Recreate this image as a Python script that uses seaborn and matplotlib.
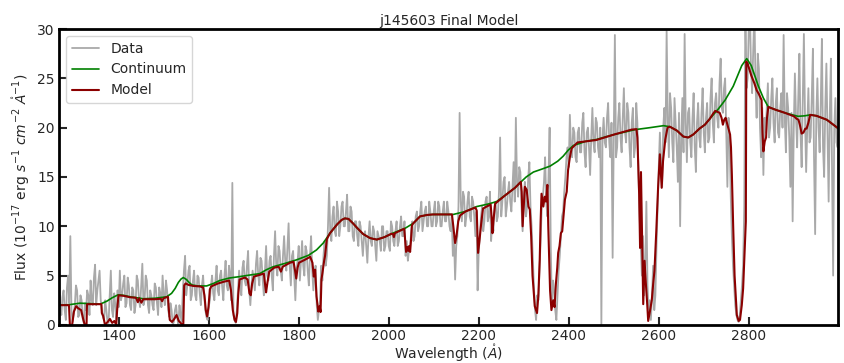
import numpy as np
import pandas as pd
import matplotlib
matplotlib.use("Agg")
import matplotlib.pyplot as plt
import seaborn as sns

# Observed spectrum: pixels on the 5 Angstrom grid ...
data_wave_a = np.arange(1267, 3000, 5)
data_flux_a = [
    4.5, 1.0, 3.5, 0.5, 5.0, 9.0, 0.3, 2.0, 3.5, 1.0, 2.5, 0.2, 1.5, 3.0, 4.5, 2.0, 6.1, 3.5, 5.5, 1.5,
    0.5, 1.5, 0.2, 5.5, 0.8, 2.0, 3.5, 5.5, 3.0, 5.0, 2.2, 4.0, 1.5, 3.5, 2.0, 4.5, 1.8, 6.2, 2.5, 4.5,
    1.2, 3.0, 1.5, 3.8, 1.0, 3.2, 5.0, 2.0, 3.5, 0.8, 1.5, 0.3, 2.0, 0.0, 1.0, 3.5, 7.0, 4.0, 6.0, 3.0,
    5.5, 2.5, 4.8, 2.0, 5.0, 1.5, 0.5, 2.5, 5.0, 2.5, 6.0, 3.0, 5.5, 2.5, 6.5, 3.5, 5.0, 14.4, 0.5, 1.5,
    5.5, 3.0, 6.5, 4.0, 7.5, 2.0, 5.5, 3.5, 7.5, 4.0, 6.5, 3.0, 8.0, 4.5, 7.0, 3.5, 9.5, 5.0, 7.5, 4.5,
    9.0, 5.5, 10.3, 4.0, 7.5, 2.5, 6.5, 4.5, 8.5, 5.0, 7.5, 4.0, 9.0, 3.5, 6.0, 0.5, 2.5, 4.5, 8.5, 7.0,
    13.9, 8.5, 12.0, 9.0, 11.5, 10.0, 12.5, 10.0, 13.2, 9.5, 11.5, 8.5, 10.5, 8.0, 10.0, 7.0, 9.5, 6.3, 10.5, 8.0,
    9.5, 6.5, 9.0, 7.5, 10.0, 8.0, 9.5, 7.5, 10.0, 8.0, 10.5, 8.5, 11.0, 9.0, 7.0, 6.5, 8.0, 10.5, 9.0, 11.5,
    10.0, 12.5, 10.5, 12.0, 10.0, 11.5, 10.0, 12.5, 10.5, 12.0, 10.0, 12.5, 10.5, 11.5, 9.5, 7.0, 4.6, 9.0, 21.5, 10.5,
    13.0, 11.0, 13.5, 10.5, 12.5, 9.0, 3.5, 9.0, 12.0, 10.5, 13.0, 11.0, 8.5, 9.5, 12.5, 11.0, 19.0, 12.5, 15.0, 12.0,
    14.5, 11.5, 16.5, 21.0, 13.0, 15.5, 9.5, 14.5, 12.0, 16.5, 10.0, 4.0, 0.5, 2.5, 8.5, 13.0, 17.0, 11.0, 20.0, 2.0,
    3.5, 0.5, 5.5, 9.0, 11.5, 15.0, 18.0, 21.3, 17.0, 19.5, 16.5, 20.0, 17.5, 21.5, 16.0, 20.0, 15.2, 22.0, 17.5, 20.5,
    17.0, 0.0, 21.0, 18.0, 22.5, 17.0, 6.8, 29.4, 18.0, 22.5, 17.5, 24.0, 18.5, 21.5, 16.0, 22.0, 18.0, 20.5, 11.0, 5.0,
    3.0, 12.5, 1.0, 0.5, 6.0, 3.0, 12.0, 19.5, 14.0, 22.0, 29.8, 17.0, 22.0, 16.5, 20.5, 14.5, 10.0, 23.0, 29.5, 16.5,
    22.0, 17.0, 23.5, 15.5, 22.5, 18.0, 24.0, 17.5, 22.5, 19.0, 25.0, 18.5, 23.5, 20.0, 27.0, 21.5, 25.0, 14.0, 19.0, 9.0,
    4.0, 1.0, 0.3, 2.5, 6.0, 32.0, 25.0, 32.0, 23.5, 32.0, 21.0, 26.0, 17.0, 15.2, 19.5, 24.5, 20.0, 25.0, 18.5, 24.0,
    19.0, 23.5, 29.4, 17.5, 22.0, 14.0, 10.5, 25.5, 18.0, 27.5, 16.0, 29.5, 15.5, 24.0, 19.0, 28.0, 9.2, 25.0, 17.5, 29.0,
    15.0, 26.5, 12.5, 27.0, 5.0, 23.0, 18.0,
]
# ... and the pixels halfway between them
data_wave_b = np.arange(1269.5, 3000, 5)
data_flux_b = [
    2.0, 2.8, 1.5, 3.8, 2.2, 1.5, 1.2, 4.0, 0.8, 3.0, 0.6, 2.2, 3.5, 1.0, 2.5, 4.8, 2.0, 4.5, 2.5, 0.8,
    2.5, 0.3, 3.0, 1.5, 3.2, 0.5, 1.8, 2.5, 4.2, 1.8, 4.8, 2.0, 3.8, 1.2, 5.0, 2.5, 4.0, 2.0, 5.0, 2.0,
    3.5, 2.0, 4.2, 2.2, 3.8, 1.8, 3.0, 4.5, 1.5, 2.2, 0.0, 1.5, 0.8, 2.0, 0.3, 5.5, 3.0, 5.5, 2.5, 4.5,
    3.0, 5.0, 3.2, 4.0, 3.0, 0.8, 1.8, 4.0, 3.2, 4.5, 3.5, 5.0, 3.8, 5.0, 4.0, 6.0, 2.5, 1.0, 0.2, 3.5,
    4.0, 5.8, 4.5, 6.0, 3.5, 4.0, 4.5, 6.2, 5.0, 6.8, 4.5, 5.5, 5.0, 6.5, 5.0, 7.0, 6.0, 8.0, 5.5, 7.0,
    6.5, 8.0, 6.0, 7.0, 5.0, 5.5, 8.0, 6.5, 6.0, 8.0, 5.5, 7.0, 5.5, 5.0, 2.0, 1.5, 6.0, 7.0, 6.0, 10.0,
    9.5, 11.0, 9.5, 12.5, 9.0, 12.0, 10.0, 11.5, 9.5, 12.0, 9.0, 10.5, 9.0, 10.5, 8.5, 9.0, 8.0, 9.0, 8.5, 10.0,
    8.0, 9.5, 8.5, 10.0, 7.5, 9.5, 8.0, 10.5, 8.5, 9.5, 8.0, 10.0, 9.0, 10.5, 8.5, 7.5, 9.5, 8.5, 11.0, 9.5,
    11.5, 9.5, 11.5, 10.0, 12.5, 10.0, 11.5, 10.0, 12.5, 10.0, 11.5, 10.5, 12.5, 10.0, 11.0, 9.0, 8.0, 12.0, 12.5, 13.5,
    10.0, 12.5, 11.0, 13.0, 11.0, 11.5, 7.5, 11.0, 9.5, 12.5, 10.5, 13.5, 10.5, 12.0, 10.5, 13.5, 11.0, 14.5, 11.0, 13.5,
    12.5, 14.0, 12.5, 14.5, 16.0, 12.0, 13.0, 11.0, 15.0, 12.0, 7.0, 1.5, 3.0, 5.5, 12.0, 14.5, 12.5, 15.0, 8.0, 4.5,
    1.5, 3.0, 7.0, 11.0, 13.5, 17.0, 16.0, 18.0, 20.0, 17.0, 19.5, 17.5, 20.5, 17.5, 19.5, 18.0, 19.0, 18.5, 21.0, 18.0,
    20.0, 19.0, 18.5, 21.0, 18.5, 20.5, 19.0, 17.0, 21.0, 19.0, 21.0, 19.5, 22.5, 18.0, 20.5, 17.0, 22.5, 15.0, 8.0, 9.0,
    6.0, 4.0, 2.5, 3.0, 1.5, 8.0, 16.0, 16.5, 20.0, 18.5, 21.0, 23.5, 18.5, 23.0, 18.0, 21.5, 19.0, 17.5, 20.5, 21.5,
    18.5, 21.0, 18.0, 20.5, 19.0, 21.5, 19.5, 21.0, 18.5, 23.0, 20.5, 22.5, 21.0, 24.5, 22.0, 24.0, 19.5, 21.0, 13.0, 6.0,
    2.0, 0.5, 1.0, 4.0, 12.0, 24.0, 30.0, 26.0, 28.0, 24.5, 27.5, 20.0, 22.0, 21.0, 22.0, 19.0, 23.0, 20.5, 22.5, 19.5,
    22.0, 20.0, 21.0, 23.5, 19.0, 21.5, 20.0, 21.0, 23.0, 19.5, 22.5, 21.0, 20.0, 18.5, 23.0, 17.0, 21.0, 20.0, 22.5, 18.0,
    22.0, 19.5, 21.0, 16.0, 20.0, 18.5, 21.0,
]

# Fitted continuum
cont_wave = [
    1267, 1290, 1313, 1340, 1358, 1373, 1385, 1398, 1410, 1425, 1454, 1480, 1506, 1517, 1525, 1532,
    1538, 1543, 1550, 1556, 1562, 1575, 1595, 1610, 1624, 1645, 1669, 1690, 1713, 1728, 1743, 1770,
    1795, 1821, 1839, 1854, 1869, 1885, 1895, 1902, 1910, 1920, 1930, 1943, 1958, 1973, 1990, 2006,
    2036, 2054, 2069, 2085, 2098, 2120, 2143, 2170, 2195, 2220, 2239, 2260, 2280, 2291, 2305, 2321,
    2340, 2358, 2375, 2387, 2398, 2410, 2424, 2436, 2461, 2500, 2547, 2580, 2610, 2624, 2640, 2654,
    2665, 2676, 2690, 2702, 2713, 2732, 2747, 2765, 2784, 2795, 2805, 2821, 2832, 2843, 2860, 2880,
    2909, 2924, 2936, 2950, 2973, 2999,
]
cont_flux = [
    2.0, 2.05, 2.2, 2.15, 2.1, 2.4, 2.75, 3.05, 3.0, 2.85, 2.65, 2.7, 2.85, 3.2, 3.7, 4.3,
    4.65, 4.8, 4.6, 4.3, 4.05, 3.95, 3.95, 4.2, 4.5, 4.75, 4.9, 5.05, 5.2, 5.6, 5.9, 6.25,
    6.6, 7.05, 7.6, 8.3, 9.3, 10.2, 10.65, 10.8, 10.75, 10.3, 9.8, 9.2, 8.8, 8.65, 8.9, 9.25,
    9.8, 10.3, 11.0, 11.15, 11.2, 11.2, 11.2, 11.5, 12.0, 12.25, 12.5, 13.2, 13.9, 14.4, 15.0, 15.5,
    15.8, 16.1, 16.6, 17.1, 17.7, 18.2, 18.4, 18.6, 18.8, 19.3, 19.8, 20.0, 20.2, 20.1, 19.7, 19.1,
    19.0, 19.3, 19.9, 20.3, 20.9, 21.9, 22.8, 24.2, 26.3, 27.0, 26.3, 24.2, 23.0, 22.1, 21.8, 21.5,
    21.15, 21.2, 21.3, 21.2, 20.8, 19.9,
]

# Continuum times absorption model
model_wave = [
    1267, 1289, 1291, 1296, 1300, 1305, 1309, 1316, 1320, 1324, 1328, 1329, 1361, 1362, 1365, 1369,
    1375, 1380, 1385, 1390, 1394, 1396, 1399, 1410, 1425, 1438, 1442, 1445, 1450, 1454, 1480, 1493,
    1496, 1499, 1509, 1511, 1513, 1518, 1523, 1528, 1533, 1537, 1541, 1543, 1545, 1548, 1555, 1565,
    1580, 1587, 1590, 1593, 1596, 1599, 1602, 1605, 1620, 1635, 1645, 1649, 1653, 1657, 1660, 1663,
    1665, 1668, 1680, 1686, 1690, 1693, 1696, 1700, 1715, 1722, 1725, 1727, 1730, 1734, 1745, 1755,
    1760, 1764, 1780, 1788, 1791, 1794, 1797, 1800, 1813, 1825, 1830, 1833, 1836, 1839, 1843, 1846,
    1848, 1850, 1852, 1856, 1858, 1862, 1869, 1885, 1895, 1902, 1910, 1920, 1930, 1943, 1958, 1973,
    1990, 2006, 2009, 2011, 2013, 2034, 2036, 2038, 2041, 2043, 2045, 2047, 2049, 2051, 2054, 2069,
    2085, 2098, 2120, 2140, 2143, 2147, 2150, 2154, 2158, 2170, 2192, 2195, 2198, 2201, 2205, 2209,
    2217, 2226, 2228, 2230, 2232, 2236, 2260, 2280, 2293, 2295, 2297, 2300, 2302, 2306, 2310, 2313,
    2316, 2319, 2324, 2329, 2332, 2335, 2337, 2339, 2343, 2346, 2349, 2352, 2354, 2356, 2358, 2361,
    2365, 2368, 2371, 2374, 2376, 2379, 2382, 2385, 2387, 2391, 2395, 2398, 2402, 2406, 2419, 2436,
    2461, 2500, 2539, 2550, 2552, 2556, 2558, 2560, 2562, 2565, 2568, 2571, 2574, 2576, 2580, 2584,
    2587, 2590, 2594, 2598, 2602, 2606, 2609, 2614, 2619, 2624, 2640, 2654, 2665, 2676, 2690, 2702,
    2713, 2720, 2725, 2730, 2735, 2739, 2742, 2745, 2748, 2752, 2755, 2758, 2760, 2762, 2765, 2768,
    2773, 2777, 2780, 2784, 2787, 2789, 2791, 2793, 2794, 2797, 2805, 2812, 2817, 2822, 2828, 2830,
    2832, 2835, 2838, 2840, 2843, 2860, 2880, 2900, 2906, 2910, 2913, 2917, 2921, 2925, 2928, 2932,
    2936, 2950, 2973, 2999,
]
model_flux = [
    2.0, 2.0, 0.0, 0.0, 1.35, 1.9, 1.7, 1.5, 0.7, 0.0, 0.0, 2.1, 2.1, 1.2, 0.9, 0.0,
    0.3, 0.6, 0.2, 0.4, 0.0, 1.5, 3.0, 2.95, 2.8, 2.75, 2.3, 2.7, 2.25, 2.6, 2.6, 2.65,
    2.4, 2.7, 2.85, 1.5, 0.5, 0.3, 0.6, 1.0, 0.4, 0.2, 0.0, 0.0, 4.0, 4.2, 4.05, 3.95,
    3.9, 3.8, 3.0, 1.5, 0.85, 1.8, 3.6, 3.9, 4.2, 4.4, 4.5, 3.5, 1.5, 0.5, 0.3, 1.2,
    3.0, 4.6, 4.8, 4.6, 3.2, 3.0, 4.2, 4.9, 5.1, 5.2, 4.0, 3.3, 4.3, 5.4, 5.8, 5.9,
    5.4, 5.9, 6.3, 6.4, 5.6, 4.7, 5.8, 6.3, 6.6, 6.9, 6.3, 4.9, 5.6, 2.9, 1.35, 1.9,
    1.3, 4.6, 5.2, 6.5, 7.0, 8.7, 9.3, 10.2, 10.65, 10.8, 10.75, 10.3, 9.8, 9.2, 8.8, 8.65,
    8.9, 9.25, 9.2, 8.9, 9.3, 9.75, 8.5, 7.4, 7.9, 7.5, 8.0, 7.4, 8.6, 10.1, 10.3, 11.0,
    11.15, 11.2, 11.2, 11.2, 10.0, 8.3, 9.0, 10.5, 11.1, 11.5, 11.9, 11.6, 7.3, 8.5, 10.3, 11.8,
    12.0, 12.2, 11.0, 9.3, 10.5, 12.3, 13.2, 13.9, 14.5, 13.5, 10.0, 12.5, 14.0, 13.7, 12.0, 11.7,
    9.0, 5.0, 1.9, 1.2, 3.0, 6.6, 10.5, 13.3, 12.0, 13.0, 12.5, 14.2, 10.0, 6.6, 3.5, 1.5,
    2.5, 1.8, 4.2, 5.8, 7.3, 8.0, 9.3, 9.5, 10.6, 12.7, 13.5, 15.7, 17.0, 17.9, 18.5, 18.6,
    18.75, 19.3, 19.8, 19.85, 19.0, 13.2, 7.8, 15.5, 10.0, 2.1, 6.5, 4.1, 2.0, 0.4, 1.4, 2.5,
    4.1, 5.5, 9.5, 13.9, 17.3, 13.9, 16.6, 18.8, 20.0, 20.1, 19.7, 19.1, 19.0, 19.3, 19.9, 20.3,
    20.9, 21.4, 21.7, 21.6, 21.5, 21.0, 20.3, 20.8, 21.0, 20.3, 19.8, 19.3, 18.0, 15.2, 9.8, 5.0,
    1.0, 0.4, 0.5, 2.0, 3.7, 6.0, 8.5, 10.5, 26.7, 26.5, 25.3, 24.5, 23.8, 23.4, 22.8, 19.5,
    17.6, 18.6, 19.0, 21.0, 22.1, 21.8, 21.5, 21.15, 20.9, 20.8, 20.3, 19.4, 19.5, 19.9, 19.9, 20.5,
    21.3, 21.2, 20.8, 19.9,
]

x_ticks = [1400, 1600, 1800, 2000, 2200, 2400, 2600, 2800]
y_ticks = [0, 5, 10, 15, 20, 25, 30]

spec = pd.concat([
    pd.DataFrame({"wave": data_wave_a, "flux": data_flux_a}),
    pd.DataFrame({"wave": data_wave_b, "flux": data_flux_b}),
]).sort_values("wave")
cont = pd.DataFrame({"wave": cont_wave, "flux": cont_flux})
model = pd.DataFrame({"wave": model_wave, "flux": model_flux})

sns.set_style("white")
plt.rcParams["font.family"] = ["DejaVu Sans"]

fig = plt.figure(figsize=(8.44, 3.63), dpi=100)
ax = fig.add_axes([0.070, 0.105, 0.923, 0.815])

sns.lineplot(data=spec, x="wave", y="flux", ax=ax, color="darkgray", lw=1.3,
             label="Data", sort=False, estimator=None)
sns.lineplot(data=cont, x="wave", y="flux", ax=ax, color="green", lw=1.2,
             label="Continuum", sort=False, estimator=None)
sns.lineplot(data=model, x="wave", y="flux", ax=ax, color="#8b0000", lw=1.5,
             label="Model", sort=False, estimator=None)

ax.set_xlim(1267, 2998)
ax.set_ylim(0, 30)
ax.set_xticks(x_ticks)
ax.set_yticks(y_ticks)
ax.tick_params(direction="in", length=6, width=1.5, labelsize=10, pad=3,
               left=True, bottom=True, top=False, right=False)
for side in ax.spines.values():
    side.set_linewidth(2)
    side.set_color("black")

ax.set_title("j145603 Final Model", fontsize=10, pad=3)
ax.set_xlabel(r"Wavelength ($\mathring{A}$)", fontsize=10, labelpad=0)
ax.set_ylabel(r"Flux ($10^{-17}$ erg $s^{-1}$ $cm^{-2}$ $\mathring{A}^{-1}$)", fontsize=10)
ax.legend(loc="upper left", fontsize=10, frameon=True)

fig.savefig("out.png", dpi=100)
